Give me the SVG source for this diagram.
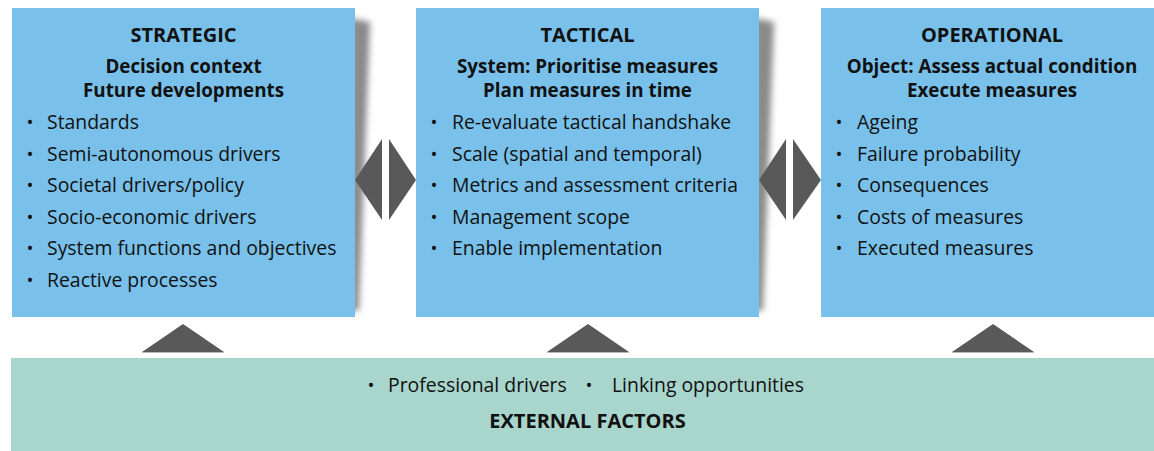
<svg xmlns="http://www.w3.org/2000/svg" width="1154" height="451" viewBox="0 0 1154 451">
  <defs>
    <filter id="blur" x="-50%" y="-10%" width="200%" height="120%">
      <feGaussianBlur stdDeviation="3"/>
    </filter>
    <style>
      .box { fill: #79C1EA; }
      .ext { fill: #A8D5CC; }
      .shadow { fill: #8a8a8a; filter: url(#blur); }
      .arrow { fill: #595959; }
      .base { stroke: #b9b9b9; stroke-width: 1; }
      text { font-family: "Open Sans", "Noto Sans", sans-serif; fill: #111; }
      .title { font-size: 20px; font-weight: bold; text-anchor: middle; }
      .sub { font-size: 18.8px; font-weight: bold; text-anchor: middle; }
      .item { font-size: 19.4px; }
      .bul { font-size: 18.5px; text-anchor: middle; }
    </style>
  </defs>

  <g id="strategic">
    <polygon class="shadow" points="350,18 370,22 359,310 350,312"/>
    <rect class="box" x="12" y="8" width="343" height="309"/>
    <text class="title" x="183.5" y="42">STRATEGIC</text>
    <text class="sub" x="183.5" y="73">Decision context</text>
    <text class="sub" x="183.5" y="97">Future developments</text>
    <g>
      <text class="bul" x="30" y="129">•</text><text class="item" x="47" y="129">Standards</text>
      <text class="bul" x="30" y="161">•</text><text class="item" x="47" y="161">Semi-autonomous drivers</text>
      <text class="bul" x="30" y="192">•</text><text class="item" x="47" y="192">Societal drivers/policy</text>
      <text class="bul" x="30" y="224">•</text><text class="item" x="47" y="224">Socio-economic drivers</text>
      <text class="bul" x="30" y="255">•</text><text class="item" x="47" y="255">System functions and objectives</text>
      <text class="bul" x="30" y="287">•</text><text class="item" x="47" y="287">Reactive processes</text>
    </g>
  </g>

  <g id="tactical">
    <polygon class="shadow" points="754,18 774,22 763,310 754,312"/>
    <rect class="box" x="416" y="8" width="343" height="309"/>
    <text class="title" x="587.5" y="42">TACTICAL</text>
    <text class="sub" x="587.5" y="73">System: Prioritise measures</text>
    <text class="sub" x="587.5" y="97">Plan measures in time</text>
    <g>
      <text class="bul" x="434" y="129">•</text><text class="item" x="452" y="129">Re-evaluate tactical handshake</text>
      <text class="bul" x="434" y="161">•</text><text class="item" x="452" y="161">Scale (spatial and temporal)</text>
      <text class="bul" x="434" y="192">•</text><text class="item" x="452" y="192">Metrics and assessment criteria</text>
      <text class="bul" x="434" y="224">•</text><text class="item" x="452" y="224">Management scope</text>
      <text class="bul" x="434" y="255">•</text><text class="item" x="452" y="255">Enable implementation</text>
    </g>
  </g>

  <g id="operational">
    <rect class="box" x="821" y="8" width="343" height="309"/>
    <text class="title" x="992" y="42">OPERATIONAL</text>
    <text class="sub" x="992" y="73">Object: Assess actual condition</text>
    <text class="sub" x="992" y="97">Execute measures</text>
    <g>
      <text class="bul" x="839" y="129">•</text><text class="item" x="857" y="129">Ageing</text>
      <text class="bul" x="839" y="161">•</text><text class="item" x="857" y="161">Failure probability</text>
      <text class="bul" x="839" y="192">•</text><text class="item" x="857" y="192">Consequences</text>
      <text class="bul" x="839" y="224">•</text><text class="item" x="857" y="224">Costs of measures</text>
      <text class="bul" x="839" y="255">•</text><text class="item" x="857" y="255">Executed measures</text>
    </g>
  </g>

  <g id="external">
    <rect class="ext" x="11" y="358" width="1143" height="93"/>
    <text class="bul" x="371" y="392">•</text><text class="item" x="388" y="392">Professional drivers</text>
    <text class="bul" x="589" y="392">•</text><text class="item" x="612" y="392">Linking opportunities</text>
    <text class="title" x="587.5" y="428">EXTERNAL FACTORS</text>
  </g>

  <g id="connectors">
    <polygon class="arrow" points="355,180 382,139 382,220"/>
    <polygon class="arrow" points="416,180 389,139 389,220"/>
    <polygon class="arrow" points="759,180 786,139 786,220"/>
    <polygon class="arrow" points="821,180 793,139 793,220"/>
    <polygon class="arrow" points="142,352 183,324 224,352"/>
    <line class="base" x1="142" y1="352.5" x2="224" y2="352.5"/>
    <polygon class="arrow" points="547,352 588,324 629,352"/>
    <line class="base" x1="547" y1="352.5" x2="629" y2="352.5"/>
    <polygon class="arrow" points="952,352 993,324 1034,352"/>
    <line class="base" x1="952" y1="352.5" x2="1034" y2="352.5"/>
  </g>
</svg>
